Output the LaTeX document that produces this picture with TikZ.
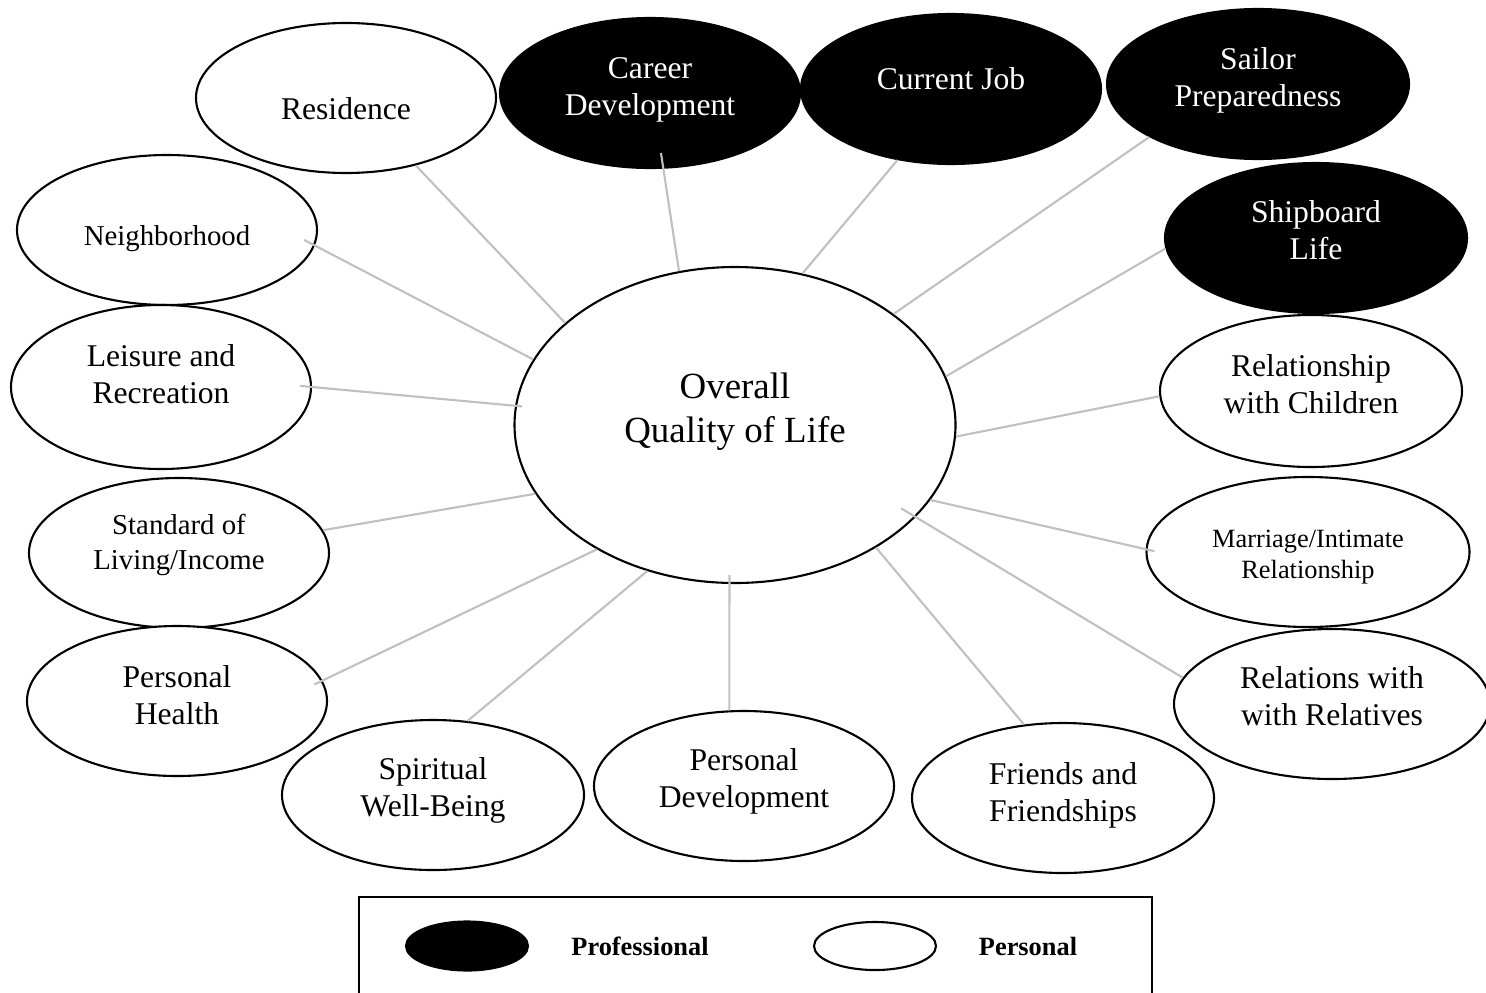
\documentclass[tikz,border=0pt]{standalone}
\usepackage{fontspec}
\setmainfont{Liberation Serif}
\usepackage{tikz}
\usetikzlibrary{shapes.geometric}
\definecolor{SpokeGray}{HTML}{C0C0C0}
\tikzset{
  lifebox/.style={ellipse,draw=black,line width=0.6pt,fill=white,minimum width=30mm,minimum height=15mm,inner sep=0pt},
  workbox/.style={lifebox,fill=black},
  tagtext/.style={align=center,inner sep=0pt,font=\fontsize{9}{10.5}\selectfont,yshift=#1},
  tagtext/.default=0.7mm,
  worktag/.style={tagtext=#1,text=white},
  worktag/.default=0.7mm,
  spoke/.style={draw=SpokeGray,line width=0.6pt},
  keytext/.style={font=\fontsize{7.5}{9}\selectfont\bfseries,inner sep=0pt}
}

\begin{document}
\begin{tikzpicture}[x=0.1mm,y=-0.1mm]
\useasboundingbox (0,0) rectangle (1486,992);
% centre
\node[lifebox,minimum width=44.1mm,minimum height=31.6mm,label={[tagtext=1.35mm,font=\fontsize{10.5}{12.7}\selectfont]center:Overall\\Quality of Life}] (qol) at (735,425) {};
% professional
\node[workbox,label={[worktag=0.3mm]center:Career\\Development}] (car) at (650,93) {};
\node[workbox,label={[worktag=1mm]center:Current Job}] (job) at (951,89) {};
\node[workbox,minimum width=30.2mm,label={[worktag=0.4mm]center:Sailor\\Preparedness}] (sai) at (1258,84) {};
\node[workbox,minimum width=30.2mm,label={[worktag=0.8mm]center:Shipboard\\Life}] (shp) at (1316,238) {};
% personal
\node[lifebox,label={[tagtext=-1.1mm]center:Residence}] (res) at (346,98) {};
\node[lifebox,label={[tagtext=-0.9mm,font=\fontsize{8.2}{9.6}\selectfont]center:Neighborhood}] (ngh) at (167,230) {};
\node[lifebox,minimum height=16.4mm,label={[tagtext=1.25mm]center:Leisure and\\Recreation}] (lei) at (161,387) {};
\node[lifebox,label={[tagtext=0.8mm,font=\fontsize{8.2}{9.7}\selectfont]center:Standard of\\Living/Income}] (std) at (179,553) {};
\node[lifebox,label={[tagtext=0.6mm]center:Personal\\Health}] (hea) at (177,701) {};
\node[lifebox,minimum width=30.2mm,label={[tagtext=0.45mm]center:Spiritual\\Well-Being}] (spi) at (433,795) {};
\node[lifebox,label={[tagtext=0.5mm]center:Personal\\Development}] (dev) at (744,786) {};
\node[lifebox,minimum width=30.2mm,label={[tagtext=0.3mm]center:Friends and\\Friendships}] (fri) at (1063,798) {};
\node[lifebox,minimum width=31.6mm,label={[tagtext=0.8mm]center:Relations with\\with Relatives}] (rlv) at (1332,704) {};
\node[lifebox,minimum width=32.3mm,label={[tagtext=-0.5mm,font=\fontsize{7.5}{8.8}\selectfont]center:Marriage/Intimate\\Relationship}] (mar) at (1308,552) {};
\node[lifebox,minimum width=30.2mm,minimum height=15.2mm,label={[tagtext=0.7mm]center:Relationship\\with Children}] (chi) at (1311,391) {};
% spokes
\draw[spoke] (res.-44) -- (qol.149);
\draw[spoke,shorten <=-1.6mm] (car.-80) -- (qol.110);
\draw[spoke] (job.-127) -- (qol.66);
\draw[spoke] (sai.206) -- (qol.35);
\draw[spoke] (shp.184) -- (qol.13);
\draw[spoke] (chi.182) -- (qol.357);
\draw[spoke,shorten <=-0.9mm] (mar.179) -- (qol.339);
\draw[spoke,shorten >=-1.7mm] (rlv.170) -- (qol.333);
\draw[spoke] (fri.118) -- (qol.319);
\draw[spoke,shorten >=-0.9mm] (dev.101) -- (qol.268);
\draw[spoke] (spi.65) -- (qol.239);
\draw[spoke,shorten <=-0.9mm] (hea.8) -- (qol.222);
\draw[spoke] (std.9) -- (qol.199);
\draw[spoke,shorten <=-1.2mm,shorten >=-0.7mm] (lei.0) -- (qol.175);
\draw[spoke,shorten <=-1.2mm] (ngh.-6) -- (qol.162);
% legend
\draw[line width=0.7pt] (359,897) rectangle (1152,1010);
\node[workbox,minimum width=12.2mm,minimum height=4.9mm] (keyprof) at (467,946) {};
\node[keytext] (keyproftext) at (640,946) {Professional};
\node[lifebox,minimum width=12.2mm,minimum height=4.8mm] (keypers) at (875,946) {};
\node[keytext] (keyperstext) at (1028,946) {Personal};
\end{tikzpicture}
\end{document}
